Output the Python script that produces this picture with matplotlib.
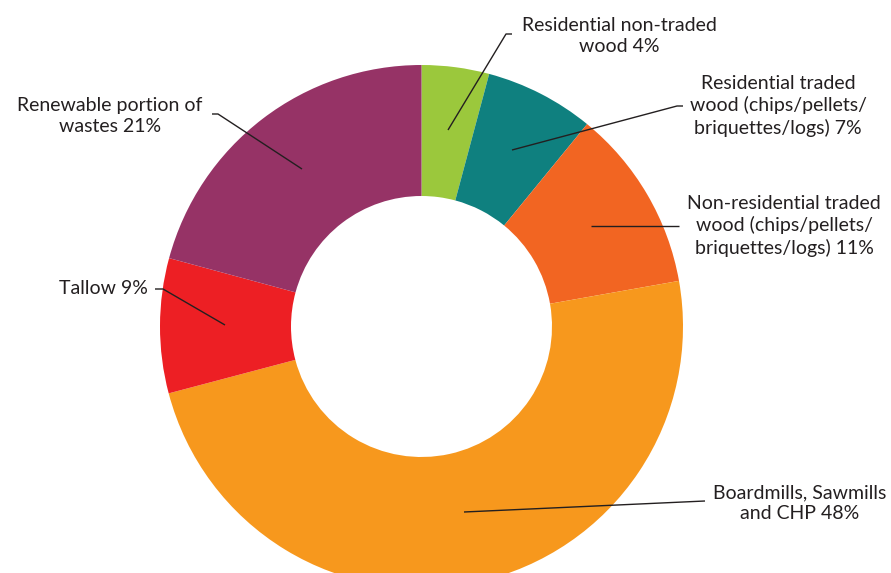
import matplotlib
matplotlib.use("Agg")
import matplotlib.pyplot as plt

# Data
categories = [
    "Residential non-traded\nwood",
    "Residential traded\nwood (chips/pellets/\nbriquettes/logs)",
    "Non-residential traded\nwood (chips/pellets/\nbriquettes/logs)",
    "Boardmills, Sawmills\nand CHP",
    "Tallow",
    "Renewable portion of\nwastes",
]
# slice shares as drawn in the picture
shares = [4.17, 6.75, 11.3, 48.7, 8.33, 20.8]
# percentages printed in the labels
label_pct = [4, 7, 11, 48, 9, 21]
colors = ["#9BC83C", "#0F807F", "#F26522", "#F7981D", "#ED1F24", "#963366"]

W, H = 891, 573
fig = plt.figure(figsize=(W / 100, H / 100), dpi=100)
ax = fig.add_axes([0, 0, 1, 1])

cx, cy = 421.5, H - 326.5
R = 261.5
ax.pie(shares, colors=colors, startangle=90, counterclock=False,
       radius=R, center=(cx, cy),
       wedgeprops=dict(width=131, linewidth=0))
ax.set_xlim(0, W)
ax.set_ylim(0, H)
ax.set_aspect("equal")
ax.axis("off")

font = dict(family=["Lato", "DejaVu Sans"], fontsize=14, color="#231F20")

def Y(y):
    return H - y

# text centre (pixel coords) and leader line points
labels_cfg = [
    (619, 36, [(448, 130), (506, 34), (512, 34)]),
    (778, 106, [(512, 150), (677, 106), (683, 106)]),
    (784, 226, [(591, 226), (679, 226)]),
    (800, 503, [(464, 512), (705, 501)]),
    (103, 289, [(225, 325), (163, 289), (155, 289)]),
    (110, 116, [(302, 169), (218, 114), (212, 114)]),
]

for cat, pct, (tx, ty, pts) in zip(categories, label_pct, labels_cfg):
    ax.text(tx, Y(ty), f"{cat} {pct}%", ha="center", va="center",
            multialignment="center", linespacing=1.3, **font)
    xs = [p[0] for p in pts]
    ys = [Y(p[1]) for p in pts]
    ax.plot(xs, ys, color="#231F20", lw=1.0, solid_capstyle="butt")

fig.savefig("out.png", dpi=100)
